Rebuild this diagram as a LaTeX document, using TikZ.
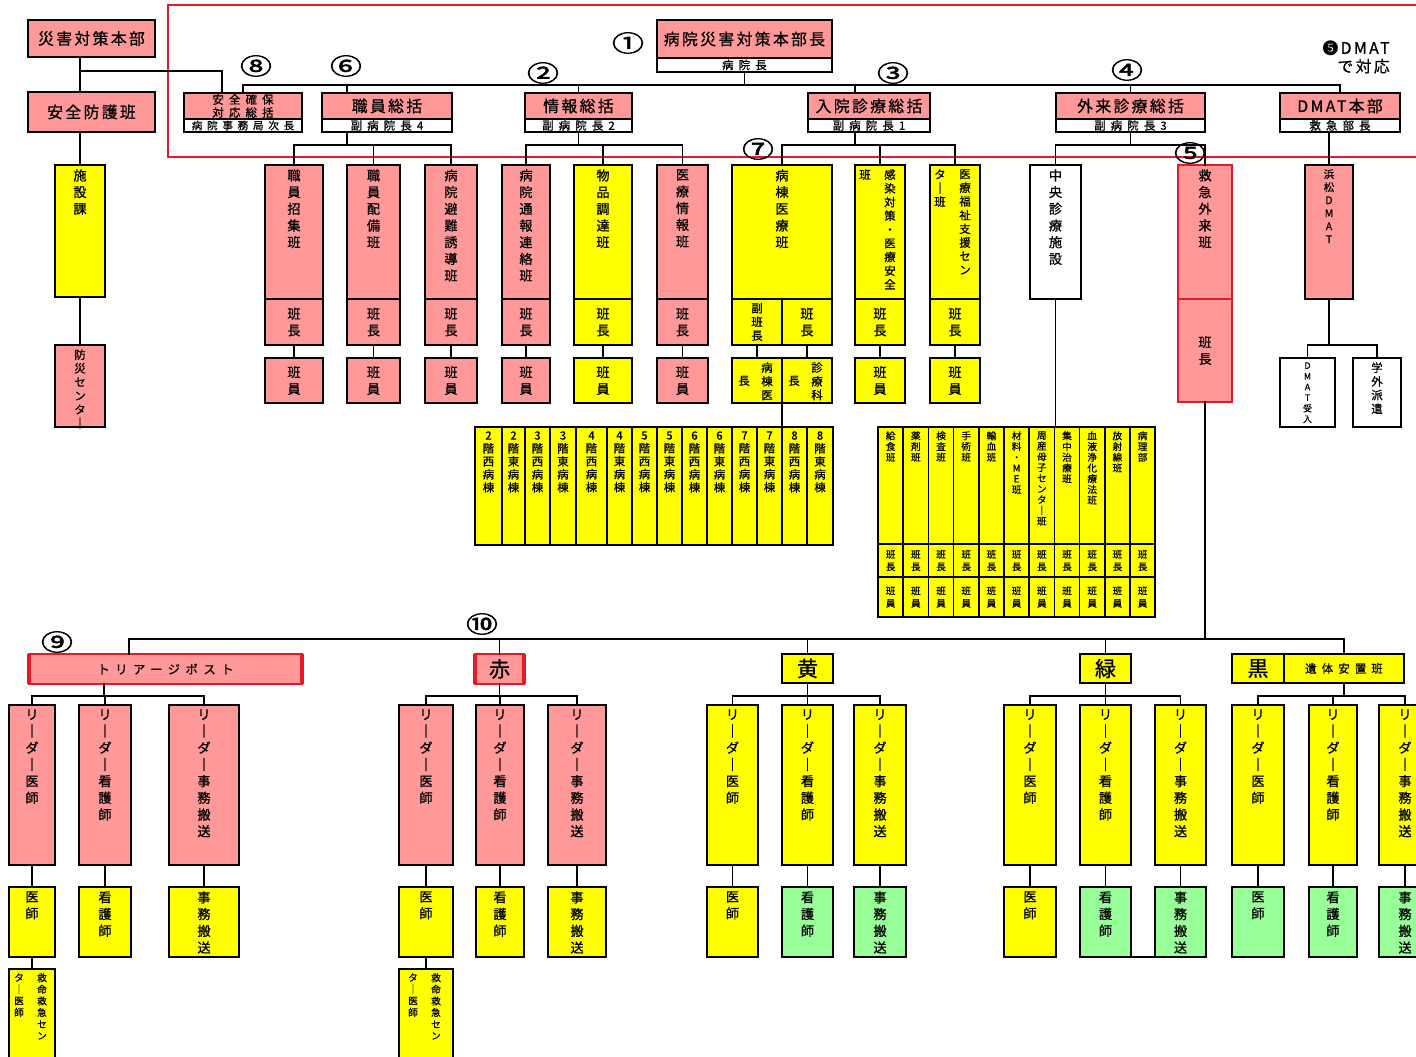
\documentclass[tikz,border=0pt]{standalone}
\usepackage{fontspec}
\usepackage{graphicx}
\setmainfont{Noto Sans CJK JP}[FakeBold=0.8]
\newfontfamily\hsp{Noto Sans CJK JP}[LetterSpace=15, FakeBold=0.8]
\newfontfamily\ssp{Noto Sans CJK JP}[LetterSpace=45, FakeBold=0.8]
\newfontfamily\numsp{Noto Sans CJK JP}[FakeBold=2]
\usetikzlibrary{positioning}

\definecolor{pinkfill}{RGB}{255,153,153}
\definecolor{yelfill}{RGB}{255,255,0}
\definecolor{grnfill}{RGB}{153,255,153}
\definecolor{redline}{RGB}{230,25,40}

\newcommand\hfont{\hsp\fontsize{9}{10}\selectfont}
\newcommand\subfont{\ssp\fontsize{6.5}{7}\selectfont}
\newcommand\vfont{\fontsize{7.5}{9.5}\selectfont}
\newcommand\nfont{\fontsize{6.5}{7.8}\selectfont}
\newcommand\wfont{\fontsize{6.5}{7.4}\selectfont}
\newcommand\cfont{\fontsize{5.5}{6.1}\selectfont}
\newcommand\mfont{\fontsize{5}{6.1}\selectfont}
\newcommand\numfont{\numsp\fontsize{13}{13}\selectfont}
\newcommand\bigfont{\fontsize{12}{13}\selectfont}

% vertical stack of characters
\makeatletter
\newcommand\vt[1]{\edef\vt@list{#1}\vbox{\expandafter\@tfor\expandafter\vt@c\expandafter:\expandafter=\vt@list\do{\hbox to 1.1em{\hss\vt@c\hss}}}}
\makeatother

% box from (x1,y1) to (x2,y2): text from the top / text centred
\newcommand\vcell[8][]{\node[#2, anchor=north west, minimum width={(#6-#4)*0.2mm},
  minimum height={(#7-#5)*0.2mm}, label={[vtxt,#1]north:{\vt{#8}}}] (#3) at (#4,#5) {};}
\newcommand\ccell[8][]{\node[#2, anchor=north west, minimum width={(#6-#4)*0.2mm},
  minimum height={(#7-#5)*0.2mm}, #1] (#3) at (#4,#5) {#8};}
% parent -> bus -> children
\newcommand\branch[5]{%
  \draw[link] (#1) -- (#1 |- #2);
  \draw[link] (#3.north |- #2) -- (#4.north |- #2);
  \foreach \c in {#5} {\draw[link] (\c.north) -- (\c.north |- #2);}}

\tikzset{
  cell/.style={draw, line width=0.9pt, inner sep=0pt, outer sep=0pt, font=\vfont},
  pcell/.style={cell, fill=pinkfill},
  ycell/.style={cell, fill=yelfill},
  gcell/.style={cell, fill=grnfill},
  wcell/.style={cell, fill=white},
  rcell/.style={pcell, draw=redline, line width=1.5pt},
  tcell/.style={pcell, draw=redline, line width=0.6pt},
  vtxt/.style={anchor=north, yshift=-0.8mm, inner sep=0pt, font=\vfont},
  link/.style={line width=0.8pt, line cap=rect},
  redside/.style={draw=redline, line width=1.8pt},
  circnum/.style={font=\numfont, inner sep=0pt},
}

\begin{document}
\begin{tikzpicture}[x=0.2mm, y=-0.2mm]
\useasboundingbox (0,0) rectangle (1416,1057);
\fill[white] (0,0) rectangle (1416,1057);

\draw[redline, line width=0.9pt] (168,5) rectangle (1430,157);

% left column
\ccell[font=\hfont]{pcell}{hq}{28}{20}{155}{57}{災害対策本部}
\ccell[font=\hfont]{pcell}{safety}{28}{92}{155}{132}{安全防護班}
\vcell{ycell}{facility}{55}{165}{105}{297}{施設課}
\vcell[font=\nfont]{pcell}{bousai}{55}{345}{105}{427}{防災センタ｜}

% top row
\ccell[font=\hfont]{pcell}{chief}{657}{20}{832}{58}{病院災害対策本部長}
\ccell[font=\subfont]{wcell}{chiefsub}{657}{58}{832}{72}{病院長}
\ccell[font=\ssp\fontsize{6.5}{7.4}\selectfont, align=center]{pcell}{g8}{184}{93}{302}{119}{安全確保\\対応総括}
\ccell[font=\ssp\fontsize{6}{7}\selectfont]{wcell}{g8-s}{184}{119}{302}{132}{病院事務局次長}
\foreach \nm/\xa/\xb/\tx/\sub in {g6/322/452/職員総括/副病院長4, g2/525/632/情報総括/副病院長2,
    g3/808/930/入院診療総括/副病院長1, g4/1056/1205/外来診療総括/副病院長3, gd/1280/1400/DMAT本部/救急部長} {
  \ccell[font=\hfont]{pcell}{\nm}{\xa}{93}{\xb}{119}{\tx}
  \ccell[font=\subfont]{wcell}{\nm-s}{\xa}{119}{\xb}{132}{\sub}
}
\node[font=\hsp\fontsize{9}{10.5}\selectfont, align=right, anchor=east, inner sep=0pt] (dmatnote) at (1390,57) {❺DMAT\\で対応};

% second row
\foreach \nm/\xa/\xb/\st/\tx in {s61/265/323/pcell/職員招集班, s62/347/400/pcell/職員配備班,
    s63/425/477/pcell/病院避難誘導班, s21/502/550/pcell/病院通報連絡班,
    s22/574/632/ycell/物品調達班, s23/657/708/pcell/医療情報班} {
  \vcell{\st}{\nm}{\xa}{165}{\xb}{299}{\tx}
  \ccell{\st}{\nm-h}{\xa}{299}{\xb}{345}{\vt{班長}}
  \ccell{\st}{\nm-m}{\xa}{358}{\xb}{403}{\vt{班員}}
  \draw[link] (\nm-h.south) -- (\nm-m.north);
}
\vcell{ycell}{s31}{732}{165}{832}{299}{病棟医療班}
\ccell[font=\nfont]{ycell}{s31a}{732}{299}{782}{345}{\vt{副班長}}
\ccell{ycell}{s31b}{782}{299}{832}{345}{\vt{班長}}
\ccell[label={[vtxt, xshift=2mm, font=\nfont]north:{\vt{病棟医}}},
  label={[vtxt, xshift=-2.6mm, yshift=-2.7mm, font=\nfont]north:{\vt{長}}}]{ycell}{s31c}{732}{358}{782}{403}{}
\ccell[label={[vtxt, xshift=2mm, font=\nfont]north:{\vt{診療科}}},
  label={[vtxt, xshift=-2.6mm, yshift=-2.7mm, font=\nfont]north:{\vt{長}}}]{ycell}{s31d}{782}{358}{832}{403}{}
\ccell[label={[vtxt, xshift=2mm, font=\nfont]north:{\vt{感染対策・医療安全}}},
  label={[vtxt, xshift=-3mm, font=\nfont]north:{\vt{班}}}]{ycell}{s32}{855}{165}{905}{299}{}
\ccell[label={[vtxt, xshift=2mm, font=\nfont]north:{\vt{医療福祉支援セン}}},
  label={[vtxt, xshift=-3mm, font=\nfont]north:{\vt{タ｜班}}}]{ycell}{s33}{930}{165}{980}{299}{}
\foreach \nm/\xa/\xb in {s32/855/905, s33/930/980} {
  \ccell{ycell}{\nm-h}{\xa}{299}{\xb}{345}{\vt{班長}}
  \ccell{ycell}{\nm-m}{\xa}{358}{\xb}{403}{\vt{班員}}
  \draw[link] (\nm-h.south) -- (\nm-m.north);
}
\draw[link] (s31a.south) -- (s31c.north);
\draw[link] (s31b.south) -- (s31d.north);

\vcell{wcell}{s41}{1030}{165}{1081}{299}{中央診療施設}
\vcell{rcell}{s42}{1178}{165}{1232}{299}{救急外来班}
\ccell{rcell}{s42h}{1178}{299}{1232}{402}{\vt{班長}}
\vcell[font=\fontsize{6}{7.4}\selectfont]{pcell}{sd1}{1305}{165}{1353}{299}{浜松DMAT}
\vcell[font=\mfont]{wcell}{sd2}{1280}{358}{1335}{427}{DMAT受入}
\vcell[font=\nfont]{wcell}{sd3}{1353}{358}{1401}{427}{学外派遣}

% wards
\foreach \xa/\xb/\fl/\sd [count=\i] in {475/502/2/西, 502/525/2/東, 525/550/3/西, 550/576/3/東,
    576/607/4/西, 607/632/4/東, 632/657/5/西, 657/682/5/東, 682/707/6/西, 707/732/6/東,
    732/757/7/西, 757/782/7/東, 782/807/8/西, 807/833/8/東}
  {\vcell[font=\wfont]{ycell}{w\i}{\xa}{427}{\xb}{545}{{\fl}階{\sd}病棟}}
\draw[link] (s31c.south east) -- (w13.north west);

% central facilities
\foreach \tx [count=\i] in {給食班, 薬剤班, 検査班, 手術班, 輸血班, 材料・ME班, 周産母子センタ｜班,
    集中治療班, 血液浄化療法班, 放射線班, 病理部} {
  \pgfmathsetmacro\xa{878+25.2*(\i-1)}
  \pgfmathsetmacro\xb{\xa+25.2}
  \vcell[font=\cfont]{ycell}{c\i}{\xa}{427}{\xb}{544}{\tx}
  \ccell[font=\fontsize{5.5}{7}\selectfont]{ycell}{c\i-h}{\xa}{544}{\xb}{577}{\vt{班長}}
  \ccell[font=\fontsize{5.5}{7}\selectfont]{ycell}{c\i-m}{\xa}{577}{\xb}{617}{\vt{班員}}
}
\draw[link] (s41.south) -- (s41.south |- c1.north);

% top connectors
\coordinate (bus1) at (0,85);
\coordinate (bus2) at (0,145);
\coordinate (bus3) at (0,345);
\coordinate (j71) at (0,71);
\coordinate (d8) at ([xshift=-4.2mm]g8.north);
\coordinate (d6u) at ([xshift=-8mm]g6.north);
\coordinate (d3u) at ([xshift=-2.8mm]g3.north);
\coordinate (d6l) at ([xshift=-8mm]g6-s.south);
\coordinate (d3l) at ([xshift=-2.8mm]g3-s.south);
\draw[link] (facility.north |- hq.south) -- (facility.north |- safety.north);
\draw[link] (facility.north |- j71) -| (d8);
\draw[link] (facility.north |- safety.south) -- (facility.north);
\draw[link] (facility.south) -- (bousai.north);
\draw[link] (g8.north) -- (g8.north |- bus1) -- (gd.north |- bus1) -- (gd.north);
\foreach \p in {d6u, g2.north, d3u, g4.north} \draw[link] (\p) -- (\p |- bus1);
\draw[link] (chiefsub.south) -- (chiefsub.south |- bus1);
\branch{d6l}{bus2}{s61}{s63}{s61,s62,s63}
\branch{g2-s.south}{bus2}{s21}{s23}{s21,s22,s23}
\branch{d3l}{bus2}{s31}{s33}{s31,s32,s33}
\branch{g4-s.south}{bus2}{s41}{s42}{s41,s42}
\draw[link] (sd1.north |- gd-s.south) -- (sd1.north);
\branch{sd1.south}{bus3}{sd2}{sd3}{sd2,sd3}

% triage section
\ccell[font=\ssp\fontsize{7}{8}\selectfont]{tcell}{tri}{29}{654}{302}{684}{トリアージポスト}
\ccell[font=\bigfont]{tcell}{aka}{475}{654}{524}{684}{赤}
\ccell[font=\bigfont]{ycell}{ki}{782}{654}{833}{683}{黄}
\ccell[font=\bigfont]{ycell}{midori}{1080}{654}{1131}{683}{緑}
\ccell[font=\bigfont]{ycell}{kuro}{1232}{654}{1284}{683}{黒}
\ccell[font=\ssp\fontsize{6.5}{7}\selectfont]{ycell}{itai}{1284}{654}{1404}{683}{遺体安置班}
\foreach \n in {tri, aka} {
  \draw[redside] (\n.north west) -- (\n.south west);
  \draw[redside] (\n.north east) -- (\n.south east);
}
\foreach \nm/\xa/\xb/\sta/\stb/\tx in {
    t1/9/55/pcell/ycell/医師, t2/79/131/pcell/ycell/看護師, t3/169/239/pcell/ycell/事務搬送,
    a1/399/453/pcell/ycell/医師, a2/476/524/pcell/ycell/看護師, a3/548/606/pcell/ycell/事務搬送,
    k1/707/758/ycell/ycell/医師, k2/782/833/ycell/gcell/看護師, k3/854/906/ycell/gcell/事務搬送,
    m1/1004/1056/ycell/ycell/医師, m2/1080/1131/ycell/gcell/看護師, m3/1155/1206/ycell/gcell/事務搬送,
    b1/1232/1284/ycell/gcell/医師, b2/1309/1357/ycell/gcell/看護師, b3/1379/1431/ycell/gcell/事務搬送} {
  \vcell{\sta}{\nm}{\xa}{705}{\xb}{865}{リ｜ダ｜\tx}
  \vcell{\stb}{\nm-b}{\xa}{887}{\xb}{957}{\tx}
  \draw[link] (\nm.south) -- (\nm-b.north);
}
\foreach \nm/\xa/\xb in {t1/9/55, a1/399/453} {
  \ccell[label={[vtxt, xshift=2mm, font=\fontsize{5.5}{6.6}\selectfont]north:{\vt{救命救急セン}}},
    label={[vtxt, xshift=-2.6mm, font=\fontsize{5.5}{6.6}\selectfont]north:{\vt{タ｜医師}}}]{ycell}{\nm-c}{\xa}{969}{\xb}{1062}{}
  \draw[link] (\nm-b.south) -- (\nm-c.north);
}
\draw[link] (m2-b.south east) -- (m3-b.south west);

\coordinate (bus10) at (0,639);
\coordinate (bus11) at (0,696);
\coordinate (dt) at ([xshift=-7.3mm]tri.north);
\coordinate (dts) at ([xshift=-12.3mm]tri.south);
\draw[link] (dt) -- (dt |- bus10) -- (itai.north |- bus10) -- (itai.north);
\foreach \n in {aka, ki, midori} \draw[link] (\n.north) -- (\n.north |- bus10);
\draw[link] (s42h.south) -- (s42h.south |- bus10);
\branch{dts}{bus11}{t1}{t3}{t1,t2,t3}
\branch{aka.south}{bus11}{a1}{a3}{a1,a2,a3}
\branch{ki.south}{bus11}{k1}{k3}{k1,k2,k3}
\branch{midori.south}{bus11}{m1}{m3}{m1,m2,m3}
\branch{itai.south}{bus11}{b1}{b3}{b1,b2,b3}

% circled numbers
\foreach \nm/\x/\y/\tx in {n1/628/43/①, n2/543/73/②, n3/893/73/③, n4/1127/70/④, n5/1190/153/⑤,
    n6/346/66/⑥, n7/758/149/⑦, n8/256/66/⑧, n9/57/642/⑨, n10/482/624/⑩}
  \node[circnum] (\nm) at (\x,\y) {\scalebox{1.4}[1]{\tx}};
\end{tikzpicture}
\end{document}
